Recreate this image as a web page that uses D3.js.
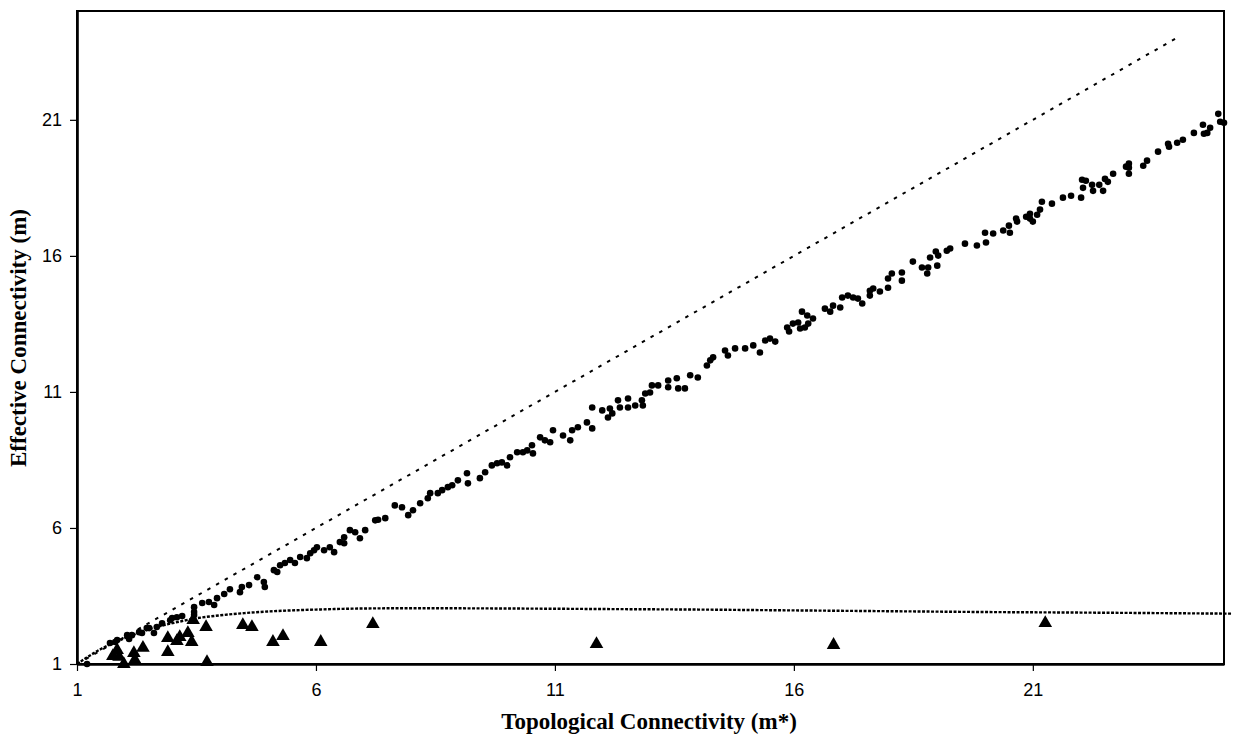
<!DOCTYPE html>
<html>
<head>
<meta charset="utf-8">
<script src="https://cdn.jsdelivr.net/npm/d3@7"></script>
<style>
  body { margin: 0; background: #fff; }
  svg { display: block; }
</style>
</head>
<body>
<svg></svg>
<script>
// values
const dotsX = [1.21,1.69,1.80,1.84,2.05,2.09,2.15,2.30,2.36,2.46,2.51,2.61,2.67,2.78,2.95,2.99,3.09,3.20,3.45,3.45,3.45,3.62,3.76,3.87,3.93,4.08,4.20,4.41,4.45,4.60,4.77,4.91,4.93,5.12,5.19,5.25,5.35,5.46,5.56,5.67,5.81,5.88,5.96,6.02,6.17,6.29,6.38,6.50,6.59,6.59,6.71,6.82,6.92,7.03,7.24,
  7.30,7.45,7.65,7.80,7.93,8.03,8.18,8.34,8.39,8.55,8.64,8.76,8.85,8.97,9.16,9.18,9.43,9.54,9.68,9.79,9.89,10.00,10.06,10.21,10.33,10.42,10.52,10.54,10.69,10.79,10.90,10.96,11.17,11.32,11.36,11.48,11.67,11.78,11.78,11.99,12.11,12.15,12.20,12.32,12.36,12.53,12.53,12.68,12.82,12.84,12.89,12.99,13.03,13.16,13.37,13.37,13.55,13.58,13.72,13.83,13.99,
  14.18,14.25,14.31,14.56,14.62,14.77,14.98,15.15,15.29,15.40,15.50,15.61,15.86,15.90,15.98,16.09,16.17,16.13,16.23,16.28,16.30,16.40,16.65,16.76,16.82,16.97,17.01,17.13,17.24,17.34,17.43,17.59,17.59,17.66,17.80,17.97,17.97,18.05,18.26,18.26,18.49,18.68,18.79,18.81,18.85,19.00,18.97,19.02,19.20,19.27,19.58,19.83,
  20.00,20.02,20.17,20.38,20.50,20.52,20.65,20.67,20.86,20.94,20.94,21.00,21.09,21.15,21.19,21.40,21.63,21.80,22.01,22.03,22.05,22.11,22.24,22.26,22.39,22.47,22.51,22.57,22.68,22.95,23.01,23.01,23.01,23.31,23.39,23.62,23.83,23.85,24.02,24.14,24.37,24.56,24.58,24.65,24.71,24.88,24.92,25.00];
const dotsY = [1.00,1.77,1.81,1.88,2.06,1.92,2.06,2.17,2.14,2.32,2.32,2.14,2.36,2.50,2.61,2.69,2.72,2.76,3.09,2.91,2.80,3.24,3.28,3.17,3.42,3.57,3.75,3.64,3.83,3.90,4.19,4.01,3.83,4.45,4.38,4.63,4.71,4.82,4.71,4.93,4.89,5.07,5.18,5.29,5.18,5.29,5.11,5.48,5.66,5.44,5.92,5.84,5.62,5.92,6.28,
  6.30,6.36,6.83,6.76,6.47,6.65,6.91,7.09,7.28,7.28,7.39,7.50,7.57,7.75,8.01,7.64,7.83,8.05,8.30,8.38,8.41,8.30,8.60,8.78,8.78,8.85,9.04,8.74,9.33,9.22,9.15,9.59,9.40,9.22,9.59,9.70,9.88,9.66,10.43,10.32,10.06,10.39,10.21,10.69,10.43,10.76,10.43,10.50,10.69,10.50,10.94,10.98,11.24,11.24,11.42,11.17,11.50,11.13,11.13,11.61,11.53,
  11.97,12.16,12.27,12.52,12.34,12.60,12.60,12.71,12.45,12.89,12.96,12.85,13.37,13.22,13.51,13.55,13.95,13.33,13.37,13.81,13.51,13.70,14.06,13.95,14.17,14.10,14.47,14.54,14.47,14.43,14.25,14.54,14.72,14.80,14.69,14.83,15.17,15.35,15.39,15.09,15.79,15.57,15.35,15.57,15.94,15.64,16.16,16.01,16.19,16.27,16.45,16.38,
  16.85,16.49,16.82,16.93,17.11,16.85,17.37,17.26,17.44,17.55,17.37,17.26,17.51,17.70,17.99,17.92,18.14,18.21,18.14,18.80,18.50,18.76,18.61,18.39,18.61,18.39,18.83,18.72,19.02,19.28,19.39,19.02,19.24,19.31,19.50,19.83,20.12,20.01,20.16,20.27,20.52,20.82,20.49,20.52,20.71,21.22,20.93,20.89];

const triX = [1.75,1.84,1.88,1.98,2.19,2.21,2.38,2.90,2.90,3.09,3.15,3.32,3.40,3.43,3.70,3.72,4.47,4.66,5.10,5.31,6.10,7.19,11.87,16.83,21.26];
const triY = [1.29,1.51,1.26,1.00,1.40,1.15,1.59,1.95,1.44,1.84,1.99,2.14,1.81,2.61,2.36,1.07,2.43,2.36,1.81,2.03,1.81,2.47,1.73,1.70,2.50];

const lineX = [1, 24];
const lineY = [1, 24];

const curveX = [1,1.5,2,2.5,3,3.5,4,4.5,5,6,7,8,10,12,14,16,18,20,22,25.15];
const curveY = [1,1.55,1.95,2.28,2.50,2.68,2.79,2.87,2.93,3.00,3.04,3.05,3.04,3.02,3.00,2.97,2.94,2.91,2.89,2.85];

const xTicks = [1, 6, 11, 16, 21];
const yTicks = [1, 6, 11, 16, 21];

const width = 1233;
const height = 738;
const plotLeft = 77, plotRight = 1224, plotTop = 11, plotBottom = 664;

let svg = d3.select("svg")
  .attr("width", width)
  .attr("height", height);

const scX = d3.scaleLinear().domain([1, 25]).range([plotLeft, plotRight]);
const scY = d3.scaleLinear().domain([1, 25]).range([plotBottom, plotTop]);

function drawAxes() {
  // рамка графика
  svg.append("rect")
    .attr("x", plotLeft).attr("y", plotTop)
    .attr("width", plotRight - plotLeft).attr("height", plotBottom - plotTop)
    .style("fill", "none").style("stroke", "#000").style("stroke-width", 2);

  let axisX = d3.axisBottom(scX).tickValues(xTicks).tickSize(7).tickSizeOuter(0).tickPadding(12);
  let axisY = d3.axisLeft(scY).tickValues(yTicks).tickSize(7).tickSizeOuter(0).tickPadding(8);

  let gx = svg.append("g")
    .attr("transform", `translate(0, ${plotBottom})`)
    .call(axisX);
  let gy = svg.append("g")
    .attr("transform", `translate(${plotLeft}, 0)`)
    .call(axisY);

  [gx, gy].forEach(g => {
    g.select(".domain").style("stroke", "#000").style("stroke-width", 2.6);
    g.selectAll(".tick line").style("stroke", "#000").style("stroke-width", 1.2);
    g.selectAll(".tick text")
      .style("font-family", "'Liberation Sans', Arial, sans-serif")
      .style("font-size", "18px")
      .style("fill", "#000");
  });

  svg.append("text")
    .attr("x", 649).attr("y", 729)
    .attr("text-anchor", "middle")
    .style("font-family", "'Liberation Serif', 'Times New Roman', serif")
    .style("font-weight", "bold")
    .style("font-size", "23px")
    .text("Topological Connectivity (m*)");

  svg.append("text")
    .attr("transform", "translate(26, 338) rotate(-90)")
    .attr("text-anchor", "middle")
    .style("font-family", "'Liberation Serif', 'Times New Roman', serif")
    .style("font-weight", "bold")
    .style("font-size", "23px")
    .text("Effective Connectivity (m)");
}

function drawLines() {
  let line = d3.line().x(d => scX(d[0])).y(d => scY(d[1]));

  svg.append("path")
    .datum(d3.zip(lineX, lineY))
    .attr("d", line)
    .style("fill", "none").style("stroke", "#000")
    .style("stroke-width", 2).style("stroke-dasharray", "3.5,6.5");

  svg.append("path")
    .datum(d3.zip(curveX, curveY))
    .attr("d", line.curve(d3.curveMonotoneX))
    .style("fill", "none").style("stroke", "#000")
    .style("stroke-width", 2.4).style("stroke-dasharray", "3,1.5");
}

function drawPoints() {
  svg.selectAll(".dot")
    .data(d3.zip(dotsX, dotsY))
    .enter()
    .append("circle")
    .attr("class", "dot")
    .attr("r", 3.3)
    .attr("cx", d => scX(d[0]))
    .attr("cy", d => scY(d[1]))
    .style("fill", "#000");

  let tri = d3.symbol().type(d3.symbolTriangle).size(80);
  svg.selectAll(".tri")
    .data(d3.zip(triX, triY))
    .enter()
    .append("path")
    .attr("class", "tri")
    .attr("d", tri)
    .attr("transform", d => `translate(${scX(d[0])}, ${scY(d[1])})`)
    .style("fill", "#000");
}

drawLines();
drawPoints();
drawAxes();
</script>
</body>
</html>
